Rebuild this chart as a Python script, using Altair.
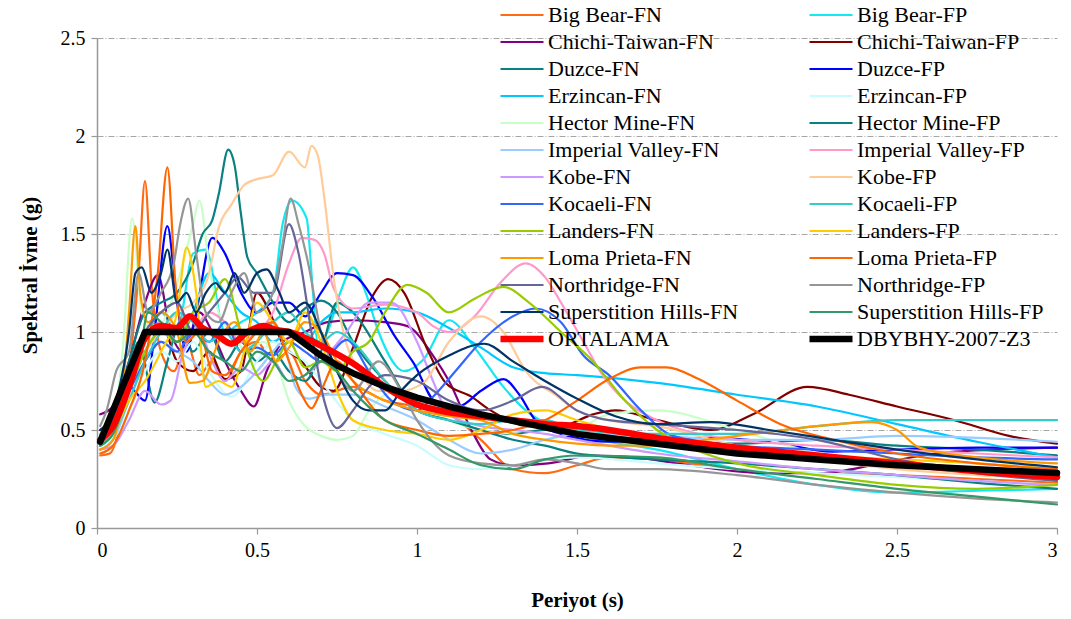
import altair as alt
import pandas as pd

# Response spectra (period in s, spectral acceleration in g) for each record
BIG_BEAR_FN = [(0.01, 0.37), (0.04, 0.38), (0.08, 0.6), (0.11, 0.95), (0.13, 1.3), (0.15, 1.77), (0.17, 1.25),
               (0.2, 0.9), (0.24, 0.8), (0.28, 0.95), (0.32, 0.78), (0.36, 0.85), (0.4, 0.75), (0.45, 0.9),
               (0.5, 0.95), (0.55, 0.85), (0.6, 0.9), (0.65, 0.75), (0.7, 0.68), (0.8, 0.72), (0.9, 0.65),
               (1.0, 0.62), (1.1, 0.58), (1.2, 0.45), (1.3, 0.3), (1.4, 0.28), (1.5, 0.32), (1.6, 0.36),
               (1.75, 0.35), (2.0, 0.3), (2.25, 0.28), (2.5, 0.27), (2.75, 0.25), (3.0, 0.23)]
BIG_BEAR_FP = [(0.01, 0.42), (0.05, 0.5), (0.1, 0.75), (0.15, 0.95), (0.2, 1.1), (0.25, 1.0), (0.3, 1.4),
               (0.34, 1.42), (0.4, 1.0), (0.45, 1.05), (0.5, 1.1), (0.55, 1.2), (0.58, 1.55), (0.61, 1.67),
               (0.655, 1.58), (0.675, 1.2), (0.69, 0.95), (0.72, 1.0), (0.76, 1.2), (0.8, 1.33), (0.84, 1.2),
               (0.88, 1.0), (0.96, 0.8), (1.02, 0.86), (1.1, 1.06), (1.18, 0.92), (1.27, 0.72), (1.34, 0.6),
               (1.45, 0.5), (1.6, 0.44), (1.75, 0.4), (2.0, 0.3), (2.25, 0.22), (2.5, 0.18), (2.75, 0.19),
               (3.0, 0.2)]
CHICHI_FN = [(0.01, 0.58), (0.05, 0.62), (0.1, 0.85), (0.15, 1.15), (0.19, 1.29), (0.23, 1.0), (0.27, 0.9),
             (0.32, 1.1), (0.36, 1.0), (0.4, 0.85), (0.45, 0.7), (0.49, 0.62), (0.53, 0.8), (0.58, 0.95),
             (0.65, 1.0), (0.72, 1.05), (0.8, 1.06), (0.9, 1.05), (0.97, 1.03), (1.05, 0.88), (1.1, 0.75),
             (1.17, 0.5), (1.23, 0.35), (1.3, 0.32), (1.41, 0.33), (1.55, 0.37), (1.68, 0.36), (1.85, 0.32),
             (2.09, 0.28), (2.26, 0.28), (2.45, 0.33), (2.62, 0.38), (2.8, 0.4), (3.0, 0.41)]
CHICHI_FP = [(0.01, 0.47), (0.05, 0.55), (0.1, 0.75), (0.15, 0.95), (0.2, 1.05), (0.25, 0.85), (0.3, 0.8),
             (0.35, 0.9), (0.4, 0.76), (0.45, 0.8), (0.5, 1.2), (0.54, 1.1), (0.58, 0.94), (0.64, 0.85),
             (0.7, 0.72), (0.74, 0.7), (0.8, 0.92), (0.86, 1.18), (0.91, 1.27), (0.96, 1.2), (1.03, 0.92),
             (1.09, 0.74), (1.17, 0.67), (1.23, 0.6), (1.35, 0.52), (1.45, 0.52), (1.55, 0.58), (1.62, 0.6),
             (1.75, 0.55), (1.92, 0.5), (2.05, 0.58), (2.22, 0.72), (2.35, 0.68), (2.5, 0.62), (2.68, 0.55),
             (2.85, 0.47), (3.0, 0.43)]
DUZCE_FN = [(0.01, 0.45), (0.05, 0.5), (0.1, 0.8), (0.13, 0.95), (0.18, 0.64), (0.22, 0.85), (0.26, 1.05),
            (0.3, 0.9), (0.35, 1.0), (0.4, 0.85), (0.45, 0.95), (0.5, 0.85), (0.55, 0.9), (0.6, 0.8),
            (0.65, 0.75), (0.7, 0.9), (0.75, 1.15), (0.8, 1.1), (0.9, 0.85), (1.0, 0.6), (1.1, 0.55),
            (1.2, 0.5), (1.3, 0.48), (1.4, 0.5), (1.5, 0.48), (1.75, 0.45), (2.0, 0.43), (2.25, 0.45),
            (2.5, 0.42), (2.75, 0.4), (3.0, 0.37)]
DUZCE_FP = [(0.01, 0.5), (0.05, 0.55), (0.1, 0.72), (0.15, 0.65), (0.18, 1.0), (0.22, 1.54), (0.25, 1.15),
            (0.28, 0.9), (0.31, 1.1), (0.36, 1.48), (0.4, 1.4), (0.45, 1.2), (0.5, 1.1), (0.55, 1.15),
            (0.6, 1.15), (0.65, 1.08), (0.7, 1.2), (0.75, 1.3), (0.8, 1.29), (0.86, 1.18), (0.93, 0.98),
            (0.99, 0.84), (1.06, 0.64), (1.13, 0.62), (1.2, 0.7), (1.27, 0.76), (1.32, 0.68), (1.37, 0.55),
            (1.45, 0.48), (1.6, 0.44), (1.75, 0.45), (1.9, 0.46), (2.1, 0.44), (2.3, 0.39), (2.5, 0.4),
            (2.75, 0.41), (3.0, 0.41)]
ERZINCAN_FN = [(0.01, 0.42), (0.05, 0.48), (0.1, 0.7), (0.15, 0.9), (0.2, 1.0), (0.25, 0.95), (0.3, 1.1),
               (0.35, 1.3), (0.4, 1.2), (0.45, 1.1), (0.5, 1.05), (0.55, 0.95), (0.6, 1.0), (0.65, 0.95),
               (0.7, 1.05), (0.75, 1.1), (0.8, 1.1), (0.9, 1.12), (1.0, 1.1), (1.1, 1.02), (1.2, 0.92),
               (1.3, 0.82), (1.4, 0.79), (1.5, 0.78), (1.75, 0.74), (2.0, 0.68), (2.25, 0.62), (2.5, 0.53),
               (2.75, 0.44), (3.0, 0.36)]
ERZINCAN_FP = [(0.01, 0.4), (0.05, 0.45), (0.1, 0.6), (0.15, 0.8), (0.2, 0.9), (0.25, 0.85), (0.3, 0.95),
               (0.35, 0.8), (0.42, 0.67), (0.5, 0.85), (0.55, 0.95), (0.6, 0.9), (0.65, 0.85), (0.7, 0.75),
               (0.8, 0.55), (0.9, 0.48), (1.0, 0.42), (1.1, 0.32), (1.2, 0.3), (1.3, 0.32), (1.4, 0.35),
               (1.5, 0.36), (1.75, 0.33), (2.0, 0.3), (2.25, 0.28), (2.5, 0.26), (2.75, 0.24), (3.0, 0.22)]
HECTOR_FN = [(0.01, 0.45), (0.05, 0.55), (0.08, 0.9), (0.11, 1.58), (0.14, 1.1), (0.18, 1.0), (0.22, 1.1),
             (0.26, 1.3), (0.3, 1.55), (0.32, 1.67), (0.35, 1.35), (0.38, 1.1), (0.42, 1.0), (0.47, 0.9),
             (0.52, 0.95), (0.56, 0.85), (0.6, 0.65), (0.65, 0.52), (0.7, 0.47), (0.75, 0.45), (0.8, 0.47),
             (0.85, 0.6), (0.9, 0.68), (0.95, 0.7), (1.0, 0.65), (1.1, 0.55), (1.2, 0.5), (1.3, 0.48),
             (1.4, 0.45), (1.5, 0.5), (1.6, 0.58), (1.75, 0.6), (2.0, 0.5), (2.25, 0.38), (2.5, 0.32),
             (2.75, 0.28), (3.0, 0.25)]
HECTOR_FP = [(0.01, 0.48), (0.05, 0.55), (0.1, 0.85), (0.15, 1.1), (0.2, 1.15), (0.25, 1.2), (0.3, 1.35),
             (0.33, 1.5), (0.36, 1.57), (0.38, 1.7), (0.41, 1.93), (0.43, 1.85), (0.45, 1.6), (0.47, 1.38),
             (0.5, 1.3), (0.55, 1.15), (0.6, 1.05), (0.65, 1.12), (0.7, 1.16), (0.75, 1.1), (0.8, 0.95),
             (0.9, 0.75), (1.0, 0.6), (1.1, 0.55), (1.2, 0.5), (1.3, 0.45), (1.4, 0.42), (1.5, 0.38),
             (1.75, 0.35), (2.0, 0.33), (2.25, 0.3), (2.5, 0.27), (2.75, 0.23), (3.0, 0.2)]
IMPERIAL_FN = [(0.01, 0.4), (0.05, 0.45), (0.1, 0.65), (0.15, 0.85), (0.2, 0.95), (0.25, 0.9), (0.3, 0.85),
               (0.35, 0.75), (0.4, 0.68), (0.45, 0.72), (0.5, 0.8), (0.55, 0.9), (0.58, 0.95), (0.62, 0.72),
               (0.66, 0.66), (0.72, 0.68), (0.8, 0.68), (0.9, 0.62), (1.0, 0.55), (1.1, 0.45), (1.2, 0.38),
               (1.3, 0.4), (1.4, 0.45), (1.5, 0.48), (1.75, 0.47), (2.0, 0.45), (2.25, 0.45), (2.5, 0.47),
               (2.75, 0.46), (3.0, 0.44)]
IMPERIAL_FP = [(0.01, 0.44), (0.05, 0.5), (0.1, 0.7), (0.15, 0.95), (0.2, 1.05), (0.25, 0.95), (0.3, 1.0),
               (0.35, 1.1), (0.4, 1.05), (0.45, 0.95), (0.5, 1.0), (0.55, 1.1), (0.6, 1.35), (0.64, 1.48),
               (0.68, 1.47), (0.71, 1.4), (0.74, 1.22), (0.8, 1.12), (0.9, 1.14), (1.0, 1.1), (1.05, 1.03),
               (1.1, 1.0), (1.18, 1.08), (1.26, 1.25), (1.34, 1.35), (1.4, 1.28), (1.45, 1.15), (1.52, 0.95),
               (1.58, 0.78), (1.65, 0.65), (1.75, 0.55), (2.0, 0.45), (2.25, 0.42), (2.5, 0.4), (2.75, 0.38),
               (3.0, 0.36)]
KOBE_FN = [(0.01, 0.4), (0.05, 0.42), (0.1, 0.55), (0.15, 0.7), (0.2, 0.63), (0.23, 0.65), (0.27, 0.9),
           (0.32, 1.0), (0.36, 0.85), (0.4, 0.75), (0.45, 0.82), (0.5, 0.78), (0.55, 0.85), (0.6, 0.75),
           (0.65, 0.78), (0.7, 0.85), (0.78, 1.0), (0.85, 1.15), (0.92, 1.15), (1.0, 0.95), (1.05, 0.75),
           (1.1, 0.58), (1.2, 0.52), (1.3, 0.5), (1.4, 0.48), (1.5, 0.45), (1.75, 0.38), (2.0, 0.34),
           (2.25, 0.3), (2.5, 0.27), (2.75, 0.24), (3.0, 0.22)]
KOBE_FP = [(0.01, 0.45), (0.05, 0.5), (0.1, 0.75), (0.15, 0.9), (0.2, 1.0), (0.25, 1.1), (0.3, 1.15),
           (0.35, 1.3), (0.38, 1.53), (0.42, 1.65), (0.46, 1.75), (0.5, 1.78), (0.55, 1.8), (0.6, 1.92),
           (0.65, 1.84), (0.67, 1.95), (0.69, 1.9), (0.71, 1.69), (0.74, 1.27), (0.77, 1.0), (0.82, 0.8),
           (0.88, 0.7), (0.95, 0.7), (1.02, 0.74), (1.1, 0.95), (1.2, 1.08), (1.27, 1.0), (1.34, 0.8),
           (1.44, 0.67), (1.5, 0.6), (1.6, 0.55), (1.75, 0.52), (2.0, 0.42), (2.25, 0.35), (2.5, 0.3),
           (2.75, 0.27), (3.0, 0.25)]
KOCAELI_FN = [(0.01, 0.5), (0.05, 0.55), (0.1, 0.7), (0.15, 0.85), (0.2, 0.95), (0.25, 0.9), (0.3, 1.0),
              (0.35, 0.95), (0.4, 1.05), (0.45, 0.9), (0.5, 0.92), (0.55, 0.88), (0.6, 0.95), (0.65, 0.9),
              (0.7, 0.85), (0.78, 0.96), (0.85, 0.8), (0.92, 0.65), (1.0, 0.6), (1.05, 0.67), (1.12, 0.8),
              (1.2, 0.95), (1.3, 1.08), (1.37, 1.12), (1.45, 1.05), (1.52, 0.88), (1.6, 0.78), (1.7, 0.6),
              (1.8, 0.47), (2.0, 0.42), (2.25, 0.4), (2.5, 0.38), (2.75, 0.36), (3.0, 0.35)]
KOCAELI_FP = [(0.01, 0.42), (0.05, 0.48), (0.1, 0.65), (0.15, 0.85), (0.2, 1.0), (0.25, 1.1), (0.3, 1.05),
              (0.35, 0.95), (0.4, 1.0), (0.45, 0.9), (0.5, 0.95), (0.55, 1.05), (0.6, 1.1), (0.65, 1.0),
              (0.7, 0.95), (0.75, 1.0), (0.8, 0.95), (0.9, 0.75), (1.0, 0.6), (1.1, 0.55), (1.2, 0.53),
              (1.3, 0.55), (1.4, 0.55), (1.5, 0.5), (1.75, 0.48), (2.0, 0.48), (2.25, 0.52), (2.5, 0.55),
              (2.75, 0.55), (3.0, 0.55)]
LANDERS_FN = [(0.01, 0.45), (0.05, 0.5), (0.1, 0.7), (0.15, 0.9), (0.2, 1.0), (0.25, 0.95), (0.3, 1.1),
              (0.35, 1.15), (0.4, 1.27), (0.45, 1.0), (0.52, 0.75), (0.56, 0.85), (0.6, 0.95), (0.65, 0.82),
              (0.7, 0.85), (0.75, 0.8), (0.8, 0.9), (0.85, 0.95), (0.9, 1.1), (0.97, 1.24), (1.03, 1.2),
              (1.1, 1.1), (1.18, 1.17), (1.27, 1.23), (1.35, 1.15), (1.45, 1.0), (1.55, 0.85), (1.65, 0.65),
              (1.75, 0.5), (1.9, 0.38), (2.0, 0.33), (2.25, 0.27), (2.5, 0.22), (2.75, 0.2), (3.0, 0.22)]
LANDERS_FP = [(0.01, 0.48), (0.05, 0.5), (0.1, 0.65), (0.15, 0.75), (0.2, 0.9), (0.25, 1.1), (0.28, 1.43),
              (0.31, 1.2), (0.34, 0.72), (0.38, 0.75), (0.42, 0.72), (0.46, 0.9), (0.5, 1.15), (0.55, 1.05),
              (0.6, 0.95), (0.65, 1.1), (0.7, 0.95), (0.75, 0.7), (0.8, 0.55), (0.9, 0.5), (1.0, 0.48),
              (1.1, 0.45), (1.2, 0.5), (1.3, 0.58), (1.4, 0.6), (1.5, 0.55), (1.75, 0.45), (2.0, 0.4),
              (2.25, 0.37), (2.5, 0.35), (2.75, 0.33), (3.0, 0.3)]
LOMA_FN = [(0.01, 0.4), (0.05, 0.45), (0.08, 0.7), (0.1, 1.1), (0.12, 1.54), (0.135, 1.2), (0.16, 1.05),
           (0.2, 1.1), (0.25, 1.0), (0.29, 0.74), (0.33, 0.75), (0.38, 0.95), (0.43, 1.05), (0.48, 0.9),
           (0.52, 1.0), (0.56, 0.85), (0.6, 0.92), (0.65, 1.05), (0.7, 1.0), (0.75, 0.85), (0.8, 0.75),
           (0.9, 0.65), (1.0, 0.6), (1.1, 0.57), (1.2, 0.55), (1.3, 0.48), (1.4, 0.45), (1.5, 0.43),
           (1.6, 0.42), (1.75, 0.42), (1.9, 0.45), (2.05, 0.48), (2.25, 0.52), (2.42, 0.54), (2.5, 0.5),
           (2.57, 0.41), (2.75, 0.36), (3.0, 0.33)]
LOMA_FP = [(0.01, 0.38), (0.05, 0.42), (0.1, 0.6), (0.15, 0.85), (0.19, 1.3), (0.22, 1.84), (0.245, 1.25),
           (0.28, 0.95), (0.32, 1.0), (0.36, 0.8), (0.4, 0.78), (0.45, 0.9), (0.5, 1.0), (0.55, 1.05),
           (0.6, 0.85), (0.64, 0.68), (0.67, 0.61), (0.7, 0.7), (0.75, 0.85), (0.8, 0.75), (0.9, 0.55),
           (1.0, 0.5), (1.1, 0.47), (1.2, 0.48), (1.3, 0.5), (1.4, 0.55), (1.5, 0.65), (1.6, 0.76),
           (1.7, 0.82), (1.78, 0.82), (1.88, 0.76), (2.0, 0.65), (2.15, 0.52), (2.3, 0.45), (2.5, 0.38),
           (2.75, 0.33), (3.0, 0.3)]
NORTHRIDGE_FN = [(0.01, 0.5), (0.05, 0.55), (0.1, 0.8), (0.15, 1.0), (0.2, 1.1), (0.25, 1.15), (0.3, 1.0),
                 (0.35, 1.1), (0.4, 1.2), (0.44, 1.28), (0.49, 1.2), (0.55, 1.2), (0.6, 1.55), (0.63, 1.4),
                 (0.67, 1.0), (0.71, 0.65), (0.75, 0.51), (0.8, 0.6), (0.85, 0.72), (0.9, 0.78), (1.0, 0.75),
                 (1.1, 0.65), (1.2, 0.6), (1.3, 0.65), (1.39, 0.72), (1.5, 0.6), (1.6, 0.55), (1.75, 0.53),
                 (2.0, 0.5), (2.25, 0.45), (2.5, 0.35), (2.75, 0.28), (3.0, 0.24)]
NORTHRIDGE_FP = [(0.01, 0.52), (0.03, 0.6), (0.06, 0.8), (0.1, 0.9), (0.13, 1.3), (0.16, 1.1), (0.2, 1.2),
                 (0.24, 1.35), (0.26, 1.55), (0.285, 1.68), (0.31, 1.4), (0.34, 1.1), (0.38, 1.05),
                 (0.42, 1.2), (0.46, 1.3), (0.5, 1.1), (0.55, 1.2), (0.58, 1.45), (0.605, 1.68), (0.63, 1.55),
                 (0.66, 1.35), (0.7, 1.0), (0.75, 0.8), (0.8, 0.7), (0.88, 0.85), (0.95, 0.7), (1.0, 0.55),
                 (1.1, 0.37), (1.2, 0.33), (1.3, 0.32), (1.4, 0.35), (1.5, 0.33), (1.6, 0.3), (1.75, 0.3),
                 (2.0, 0.27), (2.25, 0.22), (2.5, 0.18), (2.75, 0.15), (3.0, 0.13)]
SUPERSTITION_FN = [(0.01, 0.5), (0.05, 0.6), (0.1, 1.0), (0.12, 1.3), (0.14, 1.33), (0.17, 1.2), (0.2, 1.3),
                   (0.22, 1.42), (0.25, 1.15), (0.28, 1.2), (0.31, 1.1), (0.34, 1.2), (0.37, 1.25), (0.4, 1.2),
                   (0.43, 1.3), (0.46, 1.2), (0.5, 1.3), (0.53, 1.32), (0.57, 1.2), (0.6, 1.1), (0.65, 1.15),
                   (0.7, 1.0), (0.75, 0.8), (0.8, 0.65), (0.85, 0.6), (0.9, 0.6), (0.95, 0.7), (1.0, 0.78),
                   (1.1, 0.88), (1.21, 0.94), (1.3, 0.85), (1.4, 0.75), (1.5, 0.66), (1.62, 0.57),
                   (1.75, 0.53), (1.92, 0.54), (2.1, 0.5), (2.3, 0.45), (2.5, 0.4), (2.75, 0.35), (3.0, 0.31)]
SUPERSTITION_FP = [(0.01, 0.42), (0.05, 0.48), (0.1, 0.7), (0.13, 0.85), (0.16, 1.1), (0.2, 1.05),
                   (0.25, 0.95), (0.3, 1.0), (0.35, 0.9), (0.4, 0.85), (0.45, 0.8), (0.5, 0.9), (0.55, 0.85),
                   (0.6, 0.75), (0.65, 0.78), (0.7, 0.85), (0.75, 0.8), (0.8, 0.7), (0.9, 0.55), (1.0, 0.48),
                   (1.1, 0.4), (1.2, 0.32), (1.3, 0.3), (1.4, 0.35), (1.5, 0.37), (1.75, 0.36), (2.0, 0.3),
                   (2.25, 0.25), (2.5, 0.2), (2.75, 0.16), (3.0, 0.12)]
ORTALAMA = [(0.01, 0.45), (0.05, 0.52), (0.1, 0.72), (0.15, 0.97), (0.2, 1.03), (0.25, 1.02), (0.29, 1.08),
            (0.33, 1.02), (0.37, 0.99), (0.42, 0.94), (0.47, 1.0), (0.52, 1.03), (0.56, 1.01), (0.6, 1.0),
            (0.65, 0.97), (0.7, 0.93), (0.8, 0.84), (0.9, 0.72), (1.0, 0.63), (1.1, 0.59), (1.2, 0.57),
            (1.3, 0.55), (1.4, 0.53), (1.5, 0.52), (1.6, 0.5), (1.75, 0.46), (2.0, 0.41), (2.25, 0.37),
            (2.5, 0.33), (2.75, 0.29), (3.0, 0.26)]
DBYBHY = [(0.01, 0.44), (0.15, 1.0), (0.6, 1.0), (0.65, 0.94), (0.7, 0.88), (0.75, 0.83), (0.8, 0.79),
          (0.9, 0.72), (1.0, 0.665), (1.1, 0.62), (1.2, 0.58), (1.35, 0.53), (1.5, 0.48), (1.75, 0.43),
          (2.0, 0.38), (2.25, 0.35), (2.5, 0.32), (2.75, 0.3), (3.0, 0.28)]

NAMES = ["Big Bear-FN", "Big Bear-FP", "Chichi-Taiwan-FN", "Chichi-Taiwan-FP", "Duzce-FN", "Duzce-FP",
         "Erzincan-FN", "Erzincan-FP", "Hector Mine-FN", "Hector Mine-FP", "Imperial Valley-FN",
         "Imperial Valley-FP", "Kobe-FN", "Kobe-FP", "Kocaeli-FN", "Kocaeli-FP", "Landers-FN", "Landers-FP",
         "Loma Prieta-FN", "Loma Prieta-FP", "Northridge-FN", "Northridge-FP", "Superstition Hills-FN",
         "Superstition Hills-FP", "ORTALAMA", "DBYBHY-2007-Z3"]
SPECTRA = [BIG_BEAR_FN, BIG_BEAR_FP, CHICHI_FN, CHICHI_FP, DUZCE_FN, DUZCE_FP, ERZINCAN_FN, ERZINCAN_FP,
           HECTOR_FN, HECTOR_FP, IMPERIAL_FN, IMPERIAL_FP, KOBE_FN, KOBE_FP, KOCAELI_FN, KOCAELI_FP,
           LANDERS_FN, LANDERS_FP, LOMA_FN, LOMA_FP, NORTHRIDGE_FN, NORTHRIDGE_FP, SUPERSTITION_FN,
           SUPERSTITION_FP, ORTALAMA, DBYBHY]
COLORS = ["#FF6A13", "#14E8F0", "#800080", "#800000", "#0A8080", "#0000FF", "#00C8FF", "#C8FCFF",
          "#C8FFC8", "#0A8080", "#99CCFF", "#FF99CC", "#CC99FF", "#FFCC99", "#3366FF", "#33CCCC",
          "#99CC00", "#FFCC00", "#FF9900", "#FF6600", "#666699", "#969696", "#003366", "#339966",
          "#FF0000", "#000000"]
WIDTHS = [2.2] * 24 + [6.5, 6.5]

rows = []
for name, pts in zip(NAMES, SPECTRA):
    for t, sa in pts:
        rows.append({"series": name, "T": t, "Sa": sa})
df = pd.DataFrame(rows)

FONT = "Liberation Serif"

legend = alt.Legend(
    title=None, orient="none", legendX=400, legendY=-34, columns=2, direction="horizontal",
    columnPadding=67, rowPadding=5, symbolType="stroke", symbolSize=1849, clipHeight=22,
    labelFont=FONT, labelFontSize=22, labelColor="#000000", labelLimit=400, labelOffset=1, padding=0,
)

base = alt.Chart(df).encode(
    x=alt.X("T:Q", scale=alt.Scale(domain=[0, 3], nice=False),
            axis=alt.Axis(values=[0, 0.5, 1, 1.5, 2, 2.5, 3], format="~g", title="Periyot (s)",
                          grid=False, titleY=72, titleBaseline="middle", labelFont=FONT)),
    y=alt.Y("Sa:Q", scale=alt.Scale(domain=[0, 2.5], nice=False),
            axis=alt.Axis(values=[0, 0.5, 1, 1.5, 2, 2.5], format="~g", title="Spektral İvme (g)",
                          grid=True, gridDash=[6, 2, 1, 2], gridColor="#A6A6A6", gridWidth=1,
                          titleX=-67, titleY=237, titleAngle=-90, titleAlign="center",
                          titleBaseline="middle", labelFont=FONT)),
    color=alt.Color("series:N", scale=alt.Scale(domain=NAMES, range=COLORS), legend=legend),
    strokeWidth=alt.StrokeWidth("series:N",
                                scale=alt.Scale(type="ordinal", domain=NAMES, range=WIDTHS),
                                legend=legend),
)

records = base.transform_filter(
    alt.FieldOneOfPredicate(field="series", oneOf=NAMES[:24])
).mark_line(interpolate="monotone", strokeCap="round", strokeJoin="round")
mean_line = base.transform_filter(alt.datum.series == "ORTALAMA").mark_line(
    interpolate="monotone", strokeCap="round", strokeJoin="round")
code_line = base.transform_filter(alt.datum.series == "DBYBHY-2007-Z3").mark_line(
    interpolate="linear", strokeCap="round", strokeJoin="round")

chart = alt.layer(records, mean_line, code_line).properties(
    width=960, height=490,
    autosize=alt.AutoSizeParams(type="none"),
    padding={"left": 97, "top": 38, "right": 14, "bottom": 91},
).configure_view(stroke=None).configure_axis(
    labelFont=FONT, labelFontSize=20, labelColor="#000000",
    titleFont=FONT, titleFontSize=21, titleFontWeight="bold", titleColor="#000000",
    domainColor="#999999", domainWidth=1.5, tickColor="#999999", tickSize=6, tickWidth=1.2,
    labelPadding=6,
)

chart.save("out.html", embed_options={"renderer": "svg", "actions": False})
